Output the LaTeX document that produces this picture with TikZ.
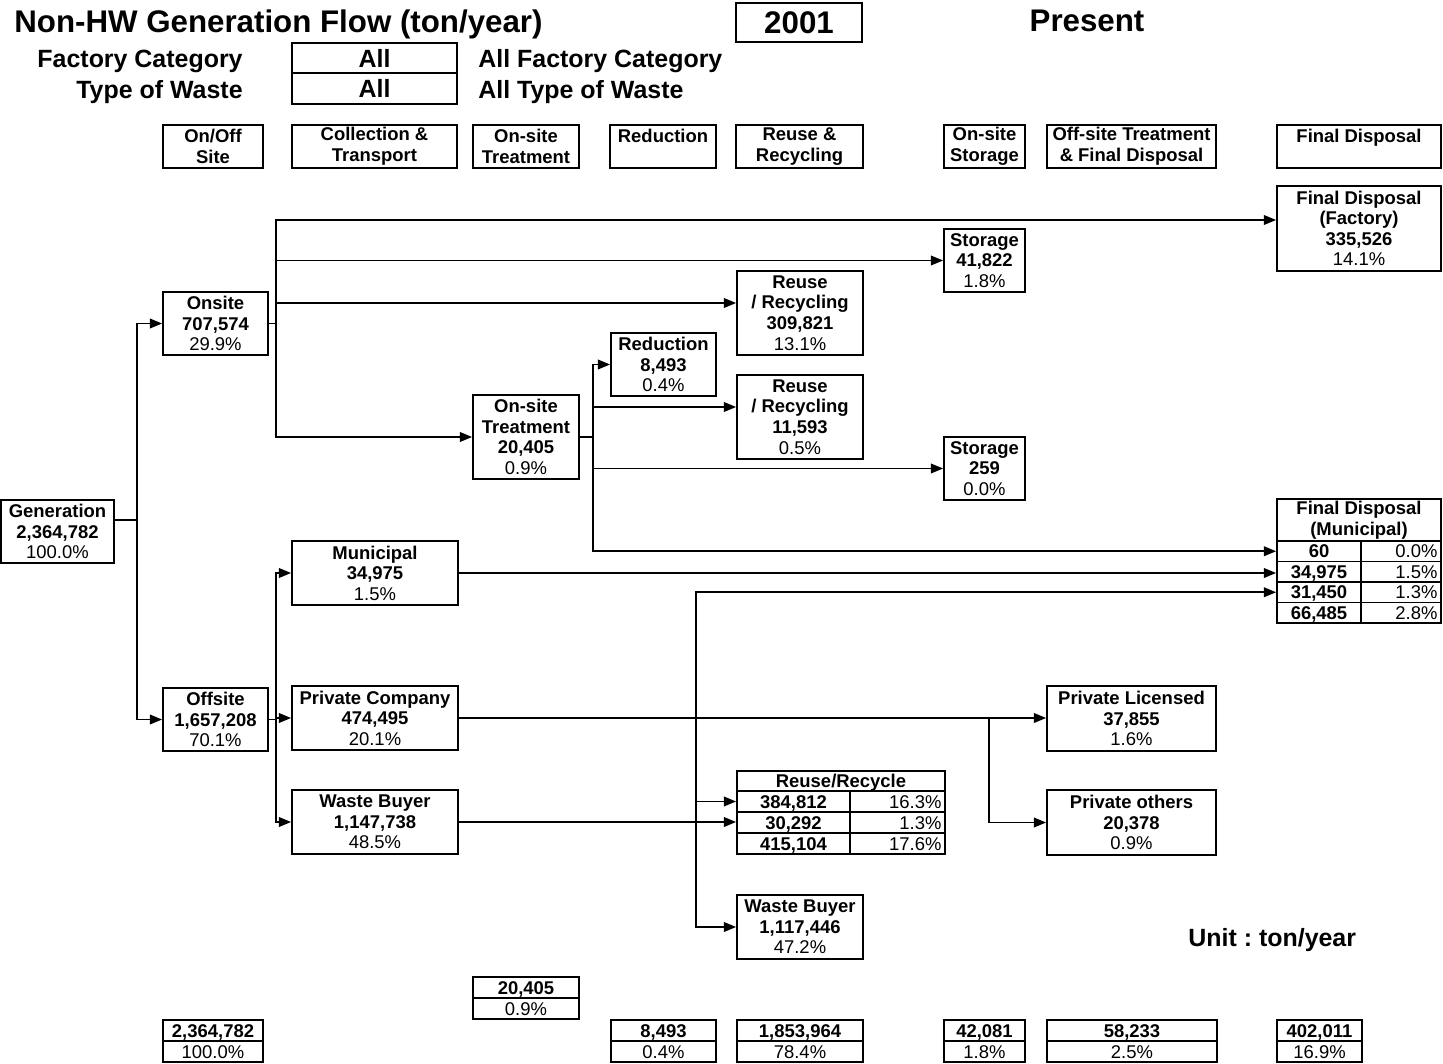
\documentclass[tikz,border=0pt]{standalone}
\usepackage{fontspec}
\setmainfont{Liberation Sans}
\usetikzlibrary{arrows.meta}
\newcommand\pcnt[1]{{\mdseries #1}}
\tikzset{
  box/.style={draw, line width=1pt, inner sep=0pt, align=center, font=\fontsize{10.5}{11.7}\selectfont\bfseries},
  sz/.style 2 args={minimum width=#1*0.02cm, minimum height=#2*0.02cm},
  cell/.style={box, text height=7.6pt, text depth=0pt},
  pbox/.style={cell, font=\fontsize{10.5}{11.7}\selectfont\mdseries},
  pcell/.style={draw, line width=1pt, inner ysep=0pt, inner xsep=2pt, align=right, text width=#1, text height=7.6pt, text depth=0pt, font=\fontsize{10.5}{11.7}\selectfont\mdseries},
}

\begin{document}
\begin{tikzpicture}[
  x=0.02cm, y=-0.02cm,
  head/.style={inner sep=0pt, font=\fontsize{17.8}{20}\selectfont\bfseries},
  sub/.style={inner sep=0pt, font=\fontsize{14.2}{16}\selectfont\bfseries},
  wire/.style={line width=1pt},
  arrow/.style={line width=1pt, -{Triangle[length=7pt, width=5.5pt]}}
]
\useasboundingbox (0,0) rectangle (1443,1064);

% Title block
\node[head, anchor=base west] (title) at (14,33) {Non-HW Generation Flow (ton/year)};
\node[draw, line width=1pt, head, sz={126}{39}] (year) at (799,22.5) {2001};
\node[head, anchor=base] (present) at (1087,32) {Present};
\node[sub, anchor=base east] (catlabel) at (243,68) {Factory Category};
\node[sub, anchor=base east] (typelabel) at (243,99) {Type of Waste};
\node[draw, line width=1pt, sub, sz={165}{30}] (catbox) at (374.5,58) {All};
\node[draw, line width=1pt, sub, sz={165}{31}] (typebox) at (374.5,88.5) {All};
\node[sub, anchor=base west] (catname) at (478,68) {All Factory Category};
\node[sub, anchor=base west] (typename) at (478,99) {All Type of Waste};
\node[sub, anchor=base west] (unit) at (1188,946) {Unit :\ ton/year};

% Column headers
\node[box, sz={100}{43}] (hOnOff) at (213,146.5) {On/Off\\Site};
\node[box, sz={165}{43}] (hColl) at (374.5,146.5) {Collection \&\\Transport};
\node[box, sz={106}{43}] (hTreat) at (526,146.5) {On-site\\Treatment};
\node[box, sz={106}{43}] (hRed) at (663,146.5) {Reduction\\\mbox{}};
\node[box, sz={127}{43}] (hReuse) at (799.5,146.5) {Reuse \&\\Recycling};
\node[box, sz={81}{43}] (hStor) at (984.5,146.5) {On-site\\Storage};
\node[box, sz={169}{43}] (hOff) at (1131.5,146.5) {Off-site Treatment\\\& Final Disposal};
\node[box, sz={164}{43}] (hFinal) at (1359,146.5) {Final Disposal\\\mbox{}};

% Nodes
\node[box, sz={113}{63}] (gen) at (57.5,531.5) {Generation\\2,364,782\\\pcnt{100.0\%}};
\node[box, sz={105}{63}] (onsite) at (215.5,323.5) {Onsite\\707,574\\\pcnt{29.9\%}};
\node[box, sz={105}{63}] (offsite) at (215.5,719.5) {Offsite\\1,657,208\\\pcnt{70.1\%}};
\node[box, sz={106}{84}] (treat) at (526,437) {On-site\\Treatment\\20,405\\\pcnt{0.9\%}};
\node[box, sz={105}{63}] (red) at (663.5,364.5) {Reduction\\8,493\\\pcnt{0.4\%}};
\node[box, sz={126}{84}] (reuseA) at (800,313) {Reuse\\/ Recycling\\309,821\\\pcnt{13.1\%}};
\node[box, sz={126}{84}] (reuseB) at (800,417) {Reuse\\/ Recycling\\11,593\\\pcnt{0.5\%}};
\node[box, sz={81}{63}] (storA) at (984.5,260.5) {Storage\\41,822\\\pcnt{1.8\%}};
\node[box, sz={81}{63}] (storB) at (984.5,468.5) {Storage\\259\\\pcnt{0.0\%}};
\node[box, sz={164}{85}] (fdFac) at (1359,228.5) {Final Disposal\\(Factory)\\335,526\\\pcnt{14.1\%}};
\node[box, sz={166}{64}] (municipal) at (375,573) {Municipal\\34,975\\\pcnt{1.5\%}};
\node[box, sz={166}{64}] (privco) at (375,718) {Private Company\\474,495\\\pcnt{20.1\%}};
\node[box, sz={166}{64}] (buyer) at (375,822) {Waste Buyer\\1,147,738\\\pcnt{48.5\%}};
\node[box, sz={126}{64}] (buyerB) at (800,927) {Waste Buyer\\1,117,446\\\pcnt{47.2\%}};
\node[box, sz={169}{65}] (privLic) at (1131.5,718.5) {Private Licensed\\37,855\\\pcnt{1.6\%}};
\node[box, sz={169}{65}] (privOth) at (1131.5,822.5) {Private others\\20,378\\\pcnt{0.9\%}};

% Final disposal (municipal) table
\node[box, sz={164}{42}] (fmHead) at (1359,520) {Final Disposal\\(Municipal)};
\node[cell, sz={84}{20.5}] (fm1) at (1319,551.25) {60};
\node[pcell=1.459cm, minimum height=0.41cm] (fmp1) at (1401,551.25) {0.0\%};
\node[cell, sz={84}{20.5}] (fm2) at (1319,571.75) {34,975};
\node[pcell=1.459cm, minimum height=0.41cm] (fmp2) at (1401,571.75) {1.5\%};
\node[cell, sz={84}{20.5}] (fm3) at (1319,592.25) {31,450};
\node[pcell=1.459cm, minimum height=0.41cm] (fmp3) at (1401,592.25) {1.3\%};
\node[cell, sz={84}{20.5}] (fm4) at (1319,612.75) {66,485};
\node[pcell=1.459cm, minimum height=0.41cm] (fmp4) at (1401,612.75) {2.8\%};

% Reuse/Recycle table
\node[cell, sz={208}{20}] (rrHead) at (841,781) {Reuse/Recycle};
\node[cell, sz={113}{21}] (rr1) at (793.5,801.5) {384,812};
\node[pcell=1.759cm, minimum height=0.42cm] (rrp1) at (897.5,801.5) {16.3\%};
\node[cell, sz={113}{21}] (rr2) at (793.5,822.5) {30,292};
\node[pcell=1.759cm, minimum height=0.42cm] (rrp2) at (897.5,822.5) {1.3\%};
\node[cell, sz={113}{21}] (rr3) at (793.5,843.5) {415,104};
\node[pcell=1.759cm, minimum height=0.42cm] (rrp3) at (897.5,843.5) {17.6\%};

% Totals
\node[cell, sz={100}{21}] (totGen) at (213,1030.5) {2,364,782};
\node[pbox, sz={100}{21}] (totGenP) at (213,1051.5) {100.0\%};
\node[cell, sz={106}{21}] (totTreat) at (526,987.5) {20,405};
\node[pbox, sz={106}{21}] (totTreatP) at (526,1008.5) {0.9\%};
\node[cell, sz={105}{21}] (totRed) at (663.5,1030.5) {8,493};
\node[pbox, sz={105}{21}] (totRedP) at (663.5,1051.5) {0.4\%};
\node[cell, sz={126}{21}] (totReuse) at (800,1030.5) {1,853,964};
\node[pbox, sz={126}{21}] (totReuseP) at (800,1051.5) {78.4\%};
\node[cell, sz={81}{21}] (totStor) at (984.5,1030.5) {42,081};
\node[pbox, sz={81}{21}] (totStorP) at (984.5,1051.5) {1.8\%};
\node[cell, sz={170}{21}] (totOff) at (1132,1030.5) {58,233};
\node[pbox, sz={170}{21}] (totOffP) at (1132,1051.5) {2.5\%};
\node[cell, sz={85}{21}] (totFinal) at (1319.5,1030.5) {402,011};
\node[pbox, sz={85}{21}] (totFinalP) at (1319.5,1051.5) {16.9\%};

% Lines
\coordinate (jGen) at (137,520);
\draw[wire] (gen.east |- jGen) -- (jGen);
\draw[arrow] (jGen) |- (onsite.west);
\draw[arrow] (jGen) |- (offsite.west);

\coordinate (jOn) at (276,323.5);
\draw[wire] (onsite.east) -- (jOn);
\draw[arrow] (jOn) |- ([yshift=0.17cm]fdFac.west);
\draw[arrow] (jOn) |- (storA.west);
\draw[arrow] (jOn) |- ([yshift=0.2cm]reuseA.west);
\draw[arrow] (jOn) |- (treat.west);

\coordinate (jTr) at (593,437);
\draw[wire] (treat.east) -- (jTr);
\draw[arrow] (jTr) |- (red.west);
\draw[arrow] (jTr) |- ([yshift=0.2cm]reuseB.west);
\draw[arrow] (jTr) |- (storB.west);
\draw[arrow] (jTr) |- (fm1.west);

\coordinate (jOff) at (276,719.5);
\draw[wire] (offsite.east) -- (jOff);
\draw[arrow] (jOff) |- (municipal.west);
\draw[arrow] (jOff) |- (privco.west);
\draw[arrow] (jOff) |- (buyer.west);

\draw[arrow] (municipal.east) -- (municipal.east -| fm2.west);
\draw[arrow] (privco.east) -- (privco.east -| privLic.west);
\coordinate (jPriv) at (989,718);
\draw[arrow] (jPriv) |- (privOth.west);

\draw[arrow] (buyer.east) -- (buyer.east -| rr2.west);
\coordinate (jBuy) at (696,822);
\draw[arrow] (jBuy) |- (fm3.west);
\draw[arrow] (jBuy) |- (rr1.west);
\draw[arrow] (jBuy) |- (buyerB.west);

\end{tikzpicture}
\end{document}
